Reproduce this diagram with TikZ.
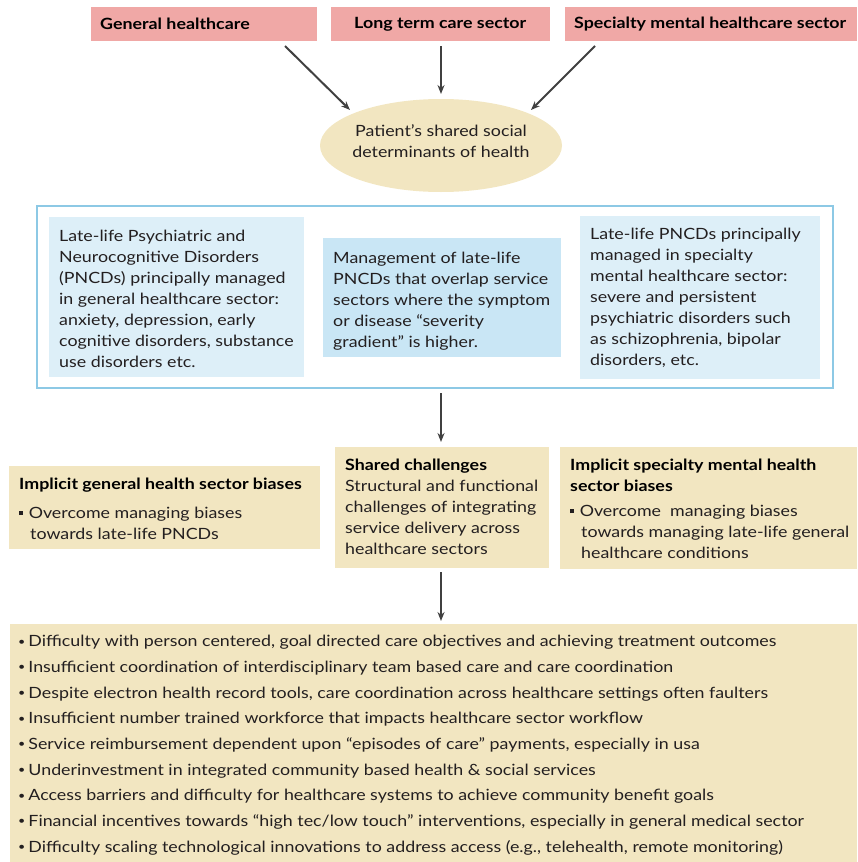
\documentclass[tikz,border=0pt]{standalone}
\usepackage{fontspec}
\setmainfont{Lato}[FakeStretch=1.15]
\usetikzlibrary{arrows.meta,shapes.geometric}
\definecolor{pinkbox}{HTML}{F0A8A6}
\definecolor{wheat}{HTML}{F2E6C1}
\definecolor{lblue}{HTML}{DDEFF8}
\definecolor{mblue}{HTML}{C9E6F5}
\definecolor{framec}{HTML}{8DC9E5}
\definecolor{arrowc}{HTML}{404040}
\definecolor{txt}{HTML}{231F20}
\newcommand{\mybul}{\raisebox{0.1em}{\scalebox{0.7}{\textbullet}}}
\newcommand{\sqbul}{\raisebox{0.24em}{\rule{3.6pt}{3.6pt}}}
\tikzset{
  hdr/.style={fill=pinkbox, anchor=north west, inner sep=0pt, font=\bfseries\fontsize{15.5}{19}\selectfont, text=black},
  bluebox/.style={fill=lblue, anchor=north west, inner sep=0pt},
  wbox/.style={fill=wheat, anchor=north west, inner sep=0pt},
  txtblock/.style={anchor=north west, inner sep=0pt, align=left, text=txt, font=\fontsize{15.5}{21}\selectfont},
  arr/.style={draw=arrowc, line width=2pt, -{Stealth[length=9pt,width=7pt]}},
}
\begin{document}
\begin{tikzpicture}[x=1pt,y=-1pt]
\useasboundingbox (0,0) rectangle (857,862);
% top headers
\node[hdr, minimum width=226pt, minimum height=34pt] (gh) at (91,7) {};
\node[hdr, anchor=west] (ghT) at (100,24) {General healthcare};
\node[hdr, minimum width=219pt, minimum height=34pt] (lt) at (331,7) {};
\node[hdr, anchor=west] (ltT) at (354,24) {Long term care sector};
\node[hdr, minimum width=292pt, minimum height=34pt] (sm) at (565,7) {};
\node[hdr, anchor=west] (smT) at (574,24) {Specialty mental healthcare sector};
% ellipse
\node[ellipse, fill=wheat, minimum width=242pt, minimum height=93pt, inner sep=0pt] (pat) at (441,145.5) {};
\node[align=center, inner sep=0pt, text=txt, font=\fontsize{15.5}{21}\selectfont] (patT) at (441,141.5) {Patient's shared social\\determinants of health};
\coordinate (a1s) at (285,46); \coordinate (a1e) at (350,110);
\coordinate (a2s) at (441,46); \coordinate (a2e) at (441,94);
\coordinate (a3s) at (595,46); \coordinate (a3e) at (531,110);
\draw[arr] (a1s) -- (a1e);
\draw[arr] (a2s) -- (a2e);
\draw[arr] (a3s) -- (a3e);
% frame
\node[draw=framec, line width=1.5pt, anchor=north west, inner sep=0pt, minimum width=796pt, minimum height=182pt] (frame) at (36,205) {};
\node[bluebox, minimum width=255pt, minimum height=160pt] (lb) at (49,217) {};
\node[txtblock] (lbT) at (59,230) {Late-life Psychiatric and\\Neurocognitive Disorders\\(PNCDs) principally managed\\in general healthcare sector:\\anxiety, depression, early\\cognitive disorders, substance\\use disorders etc.};
\node[fill=mblue, anchor=north west, inner sep=0pt, minimum width=238pt, minimum height=119pt] (mb) at (323,238) {};
\node[txtblock] (mbT) at (333,252) {Management of late-life\\PNCDs that overlap service\\sectors where the symptom\\or disease “severity\\gradient” is higher.};
\node[bluebox, minimum width=240pt, minimum height=163pt] (rb) at (580,216) {};
\node[txtblock] (rbT) at (590,228) {Late-life PNCDs principally\\managed in specialty\\mental healthcare sector:\\severe and persistent\\psychiatric disorders such\\as schizophrenia, bipolar\\disorders, etc.};
\coordinate (a4s) at (441,393); \coordinate (a4e) at (441,442);
\draw[arr] (a4s) -- (a4e);
% middle row
\node[wbox, minimum width=311pt, minimum height=83pt] (gb) at (9,466) {};
\node[txtblock] (gbT) at (19,478) {\textbf{\textcolor{black}{Implicit general health sector biases}}\\[8pt]\sqbul\hspace{6pt}Overcome managing biases\\\hspace{11pt}towards late-life PNCDs};
\node[wbox, minimum width=214pt, minimum height=121pt] (sc) at (335,447) {};
\node[txtblock] (scT) at (345,458.5) {\textbf{\textcolor{black}{Shared challenges}}\\Structural and functional\\challenges of integrating\\service delivery across\\healthcare sectors};
\node[wbox, minimum width=297pt, minimum height=122pt] (sb) at (560,447) {};
\node[txtblock] (sbT) at (570,459) {\textbf{\textcolor{black}{Implicit specialty mental health}}\\\textbf{\textcolor{black}{sector biases}}\\[4pt]\sqbul\hspace{6pt}Overcome\ \ managing biases\\\hspace{11pt}towards managing late-life general\\\hspace{11pt}healthcare conditions};
\coordinate (a5s) at (441,572); \coordinate (a5e) at (441,621);
\draw[arr] (a5s) -- (a5e);
% bottom box
\node[wbox, minimum width=847pt, minimum height=238pt] (bb) at (10,624) {};
\node[txtblock, font=\fontsize{15.5}{25.7}\selectfont] (bbT) at (18,635) {\mybul\hspace{3pt}Difficulty with person centered, goal directed care objectives and achieving treatment outcomes\\
\mybul\hspace{3pt}Insufficient coordination of interdisciplinary team based care and care coordination\\
\mybul\hspace{3pt}Despite electron health record tools, care coordination across healthcare settings often faulters\\
\mybul\hspace{3pt}Insufficient number trained workforce that impacts healthcare sector workflow\\
\mybul\hspace{3pt}Service reimbursement dependent upon “episodes of care” payments, especially in usa\\
\mybul\hspace{3pt}Underinvestment in integrated community based health \& social services\\
\mybul\hspace{3pt}Access barriers and difficulty for healthcare systems to achieve community benefit goals\\
\mybul\hspace{3pt}Financial incentives towards “high tec/low touch” interventions, especially in general medical sector\\
\mybul\hspace{3pt}Difficulty scaling technological innovations to address access (e.g., telehealth, remote monitoring)};
\end{tikzpicture}
\end{document}
